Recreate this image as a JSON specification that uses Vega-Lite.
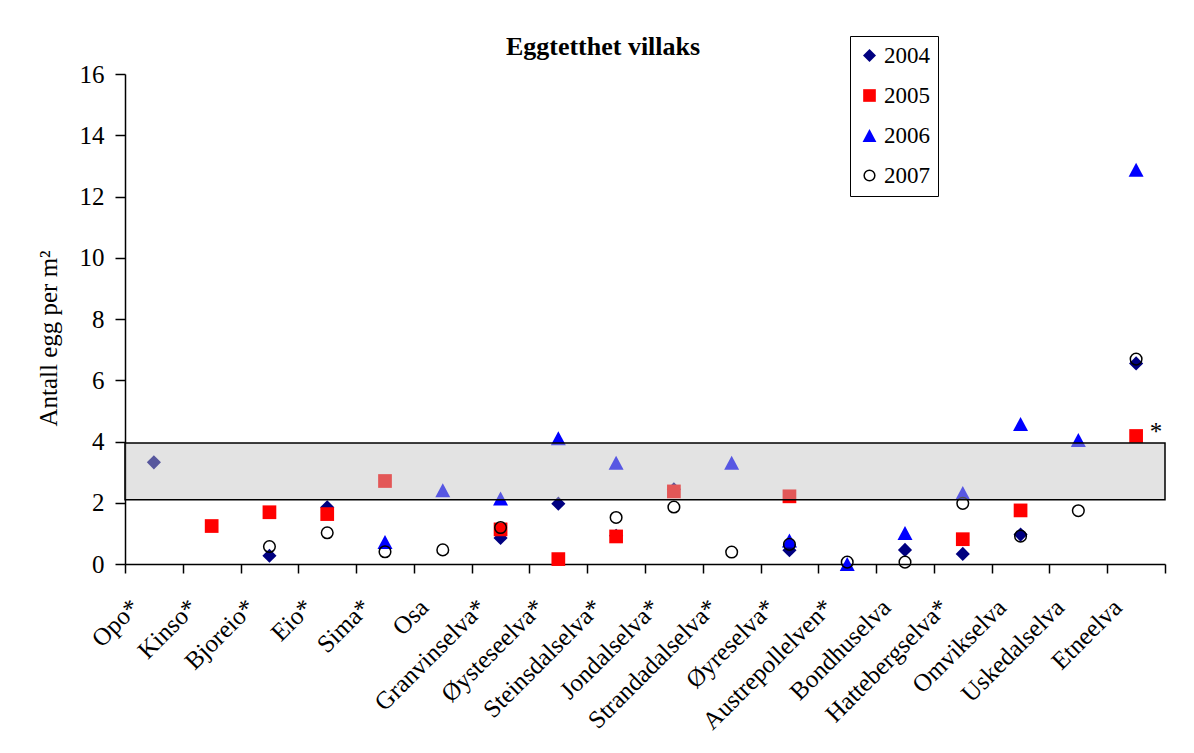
{
  "$schema": "https://vega.github.io/schema/vega-lite/v6.json",
  "width": 1040,
  "height": 490,
  "autosize": {"type": "none"},
  "padding": {"left": 125, "top": 74, "right": 29, "bottom": 189},
  "background": "white",
  "title": {
    "text": "Eggtetthet villaks",
    "font": "Liberation Serif",
    "fontSize": 26,
    "fontWeight": "bold",
    "color": "black",
    "anchor": "middle",
    "dx": -42,
    "offset": -24
  },
  "config": {"view": {"stroke": null}, "font": "Liberation Serif"},
  "layer": [
    {
      "data": {
        "values": [
          {"river": "Opo*", "year": "2004", "value": 3.32},
          {"river": "Bjoreio*", "year": "2004", "value": 0.27},
          {"river": "Eio*", "year": "2004", "value": 1.85},
          {"river": "Granvinselva*", "year": "2004", "value": 0.85},
          {"river": "Øysteseelva*", "year": "2004", "value": 1.97},
          {"river": "Steinsdalselva*", "year": "2004", "value": 0.92},
          {"river": "Jondalselva*", "year": "2004", "value": 2.44},
          {"river": "Øyreselva*", "year": "2004", "value": 0.45},
          {"river": "Bondhuselva", "year": "2004", "value": 0.46},
          {"river": "Hattebergselva*", "year": "2004", "value": 0.33},
          {"river": "Omvikselva", "year": "2004", "value": 0.96},
          {"river": "Etneelva", "year": "2004", "value": 6.55},
          {"river": "Kinso*", "year": "2005", "value": 1.24},
          {"river": "Bjoreio*", "year": "2005", "value": 1.69},
          {"river": "Eio*", "year": "2005", "value": 1.63},
          {"river": "Sima*", "year": "2005", "value": 2.71},
          {"river": "Granvinselva*", "year": "2005", "value": 1.13},
          {"river": "Øysteseelva*", "year": "2005", "value": 0.16},
          {"river": "Steinsdalselva*", "year": "2005", "value": 0.9},
          {"river": "Jondalselva*", "year": "2005", "value": 2.37},
          {"river": "Øyreselva*", "year": "2005", "value": 2.21},
          {"river": "Hattebergselva*", "year": "2005", "value": 0.81},
          {"river": "Omvikselva", "year": "2005", "value": 1.75},
          {"river": "Etneelva", "year": "2005", "value": 4.18},
          {"river": "Sima*", "year": "2006", "value": 0.72},
          {"river": "Osa", "year": "2006", "value": 2.41},
          {"river": "Granvinselva*", "year": "2006", "value": 2.14},
          {"river": "Øysteseelva*", "year": "2006", "value": 4.11},
          {"river": "Steinsdalselva*", "year": "2006", "value": 3.31},
          {"river": "Strandadalselva*", "year": "2006", "value": 3.31},
          {"river": "Øyreselva*", "year": "2006", "value": 0.77},
          {"river": "Austrepollelven*", "year": "2006", "value": 0.0},
          {"river": "Bondhuselva", "year": "2006", "value": 1.01},
          {"river": "Hattebergselva*", "year": "2006", "value": 2.32},
          {"river": "Omvikselva", "year": "2006", "value": 4.57},
          {"river": "Uskedalselva", "year": "2006", "value": 4.05},
          {"river": "Etneelva", "year": "2006", "value": 12.87},
          {"river": "Bjoreio*", "year": "2007", "value": 0.57},
          {"river": "Eio*", "year": "2007", "value": 1.02},
          {"river": "Sima*", "year": "2007", "value": 0.4},
          {"river": "Osa", "year": "2007", "value": 0.46},
          {"river": "Granvinselva*", "year": "2007", "value": 1.19},
          {"river": "Steinsdalselva*", "year": "2007", "value": 1.52},
          {"river": "Jondalselva*", "year": "2007", "value": 1.86},
          {"river": "Strandadalselva*", "year": "2007", "value": 0.39},
          {"river": "Øyreselva*", "year": "2007", "value": 0.64},
          {"river": "Austrepollelven*", "year": "2007", "value": 0.06},
          {"river": "Bondhuselva", "year": "2007", "value": 0.06},
          {"river": "Hattebergselva*", "year": "2007", "value": 1.98},
          {"river": "Omvikselva", "year": "2007", "value": 0.91},
          {"river": "Uskedalselva", "year": "2007", "value": 1.74},
          {"river": "Etneelva", "year": "2007", "value": 6.69}
        ]
      },
      "mark": {"type": "point", "filled": true, "size": 200, "strokeWidth": 1.5, "opacity": 1},
      "encoding": {
        "x": {
          "field": "river",
          "type": "nominal",
          "sort": ["Opo*", "Kinso*", "Bjoreio*", "Eio*", "Sima*", "Osa", "Granvinselva*", "Øysteseelva*", "Steinsdalselva*", "Jondalselva*", "Strandadalselva*", "Øyreselva*", "Austrepollelven*", "Bondhuselva", "Hattebergselva*", "Omvikselva", "Uskedalselva", "Etneelva"],
          "scale": {"paddingInner": 0, "paddingOuter": 0},
          "axis": {
            "title": null,
            "labelAngle": -45,
            "labelAlign": "right",
            "labelBaseline": "middle",
            "labelFont": "Liberation Serif",
            "labelFontSize": 25,
            "labelColor": "black",
            "labelPadding": 30,
            "labelOffset": -19,
            "tickBand": "extent",
            "tickSize": 9,
            "tickColor": "black",
            "tickWidth": 1.5,
            "domainColor": "black",
            "domainWidth": 1.5,
            "grid": false
          }
        },
        "y": {
          "field": "value",
          "type": "quantitative",
          "scale": {"domain": [0, 16], "nice": false},
          "axis": {
            "title": "Antall egg per m²",
            "titleFont": "Liberation Serif",
            "titleFontSize": 25,
            "titleFontWeight": "normal",
            "titleColor": "black",
            "titlePadding": 18,
            "titleY": 264,
            "values": [0, 2, 4, 6, 8, 10, 12, 14, 16],
            "labelFont": "Liberation Serif",
            "labelFontSize": 25,
            "labelColor": "black",
            "labelPadding": 11,
            "tickSize": 10,
            "tickColor": "black",
            "tickWidth": 1.5,
            "domainColor": "black",
            "domainWidth": 1.5,
            "grid": false
          }
        },
        "shape": {
          "field": "year",
          "type": "nominal",
          "scale": {"domain": ["2004", "2005", "2006", "2007"], "range": ["diamond", "M-0.97,-0.97H0.97V0.97H-0.97Z", "M-1.06,0.99L1.06,0.99L0,-0.99Z", "M0.82,0A0.82,0.82,0,1,1,-0.82,0A0.82,0.82,0,1,1,0.82,0"]},
          "legend": {
            "title": null,
            "orient": "none",
            "legendX": 725,
            "legendY": -38,
            "strokeColor": "black",
            "fillColor": "white",
            "padding": 8,
            "rowPadding": 16,
            "labelFont": "Liberation Serif",
            "labelFontSize": 23,
            "labelColor": "black",
            "labelOffset": 3,
            "symbolSize": 170,
            "symbolStrokeWidth": 1.5
          }
        },
        "fill": {
          "field": "year",
          "type": "nominal",
          "scale": {"domain": ["2004", "2005", "2006", "2007"], "range": ["#000080", "#ff0000", "#0000ff", "transparent"]},
          "legend": {
            "title": null,
            "orient": "none",
            "legendX": 725,
            "legendY": -38,
            "strokeColor": "black",
            "fillColor": "white",
            "padding": 8,
            "rowPadding": 16,
            "labelFont": "Liberation Serif",
            "labelFontSize": 23,
            "labelColor": "black",
            "labelOffset": 3,
            "symbolSize": 170,
            "symbolStrokeWidth": 1.5
          }
        },
        "stroke": {
          "field": "year",
          "type": "nominal",
          "scale": {"domain": ["2004", "2005", "2006", "2007"], "range": ["transparent", "transparent", "transparent", "#000000"]},
          "legend": {
            "title": null,
            "orient": "none",
            "legendX": 725,
            "legendY": -38,
            "strokeColor": "black",
            "fillColor": "white",
            "padding": 8,
            "rowPadding": 16,
            "labelFont": "Liberation Serif",
            "labelFontSize": 23,
            "labelColor": "black",
            "labelOffset": 3,
            "symbolSize": 170,
            "symbolStrokeWidth": 1.5
          }
        }
      }
    },
    {
      "data": {"values": [{"river": "Etneelva", "value": 4.18, "note": "*"}]},
      "mark": {"type": "text", "dx": 20, "dy": -4, "fontSize": 25, "font": "Liberation Serif", "color": "black"},
      "encoding": {
        "x": {"field": "river", "type": "nominal", "sort": ["Opo*", "Kinso*", "Bjoreio*", "Eio*", "Sima*", "Osa", "Granvinselva*", "Øysteseelva*", "Steinsdalselva*", "Jondalselva*", "Strandadalselva*", "Øyreselva*", "Austrepollelven*", "Bondhuselva", "Hattebergselva*", "Omvikselva", "Uskedalselva", "Etneelva"]},
        "y": {"field": "value", "type": "quantitative"},
        "text": {"field": "note"}
      }
    },
    {
      "data": {"values": [{"lo": 2.1, "hi": 3.95}]},
      "mark": {"type": "rect", "fill": "#c0c0c0", "fillOpacity": 0.45, "stroke": "black", "strokeWidth": 1.5},
      "encoding": {
        "y": {"field": "lo", "type": "quantitative"},
        "y2": {"field": "hi"}
      }
    }
  ]
}
